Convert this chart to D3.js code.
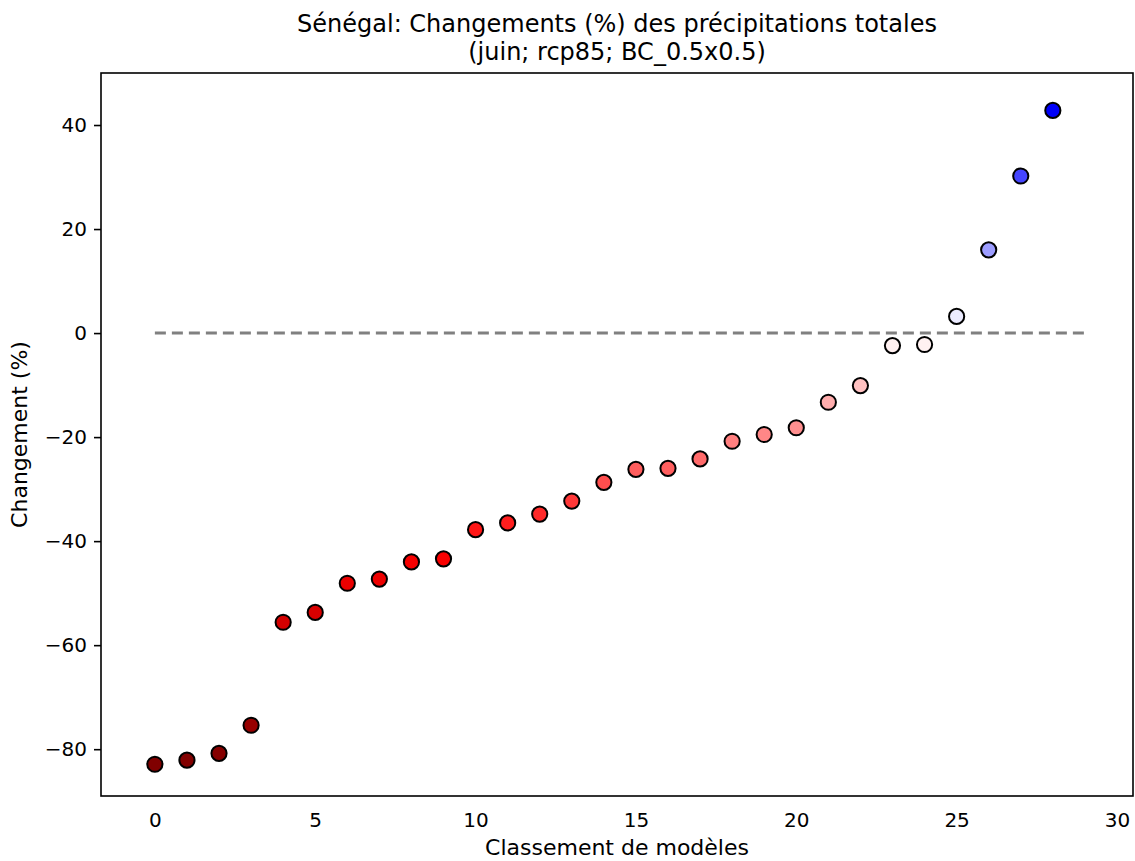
<!DOCTYPE html>
<html>
<head>
<meta charset="utf-8">
<script src="https://cdn.jsdelivr.net/npm/d3@7"></script>
<style>
  html, body { margin: 0; padding: 0; background: #fff; }
  text { font-family: "DejaVu Sans", sans-serif; fill: #000; }
</style>
</head>
<body>
<svg id="chart" width="1135" height="861"></svg>
<script>
// ---- data ----
const titleLines = ["Sénégal: Changements (%) des précipitations totales", "(juin; rcp85; BC_0.5x0.5)"];
const xLabel = "Classement de modèles";
const yLabel = "Changement (%)";
const ranks = [0,1,2,3,4,5,6,7,8,9,10,11,12,13,14,15,16,17,18,19,20,21,22,23,24,25,26,27,28];
const changes = [-82.9,-82.1,-80.8,-75.4,-55.6,-53.7,-48.1,-47.3,-44.0,-43.4,-37.8,-36.5,-34.8,-32.3,-28.7,-26.2,-26.0,-24.2,-20.8,-19.5,-18.2,-13.3,-10.1,-2.4,-2.2,3.2,16.0,30.2,42.8];
const xTicks = [0,5,10,15,20,25,30];
const yTicks = [-80,-60,-40,-20,0,20,40];
const zeroLine = [0, 29];

// ---- layout ----
const svg = d3.select("#chart");
const mLeft = 101, mRight = 1133, mTop = 73, mBottom = 796;

const x = d3.scaleLinear().domain([-1.68, 30.5]).range([mLeft, mRight]);
const y = d3.scaleLinear().domain([-89.0, 50.0]).range([mBottom, mTop]);

// seismic_r colormap, symmetric normalization
const vmax = d3.max(changes, v => Math.abs(v));
const color = d3.scaleLinear()
  .domain([-vmax, -vmax/2, 0, vmax/2, vmax])
  .range(["#800000", "#ff0000", "#ffffff", "#0000ff", "#00004d"]);

// zero dashed line
svg.append("line")
  .attr("x1", x(zeroLine[0])).attr("x2", x(zeroLine[1]))
  .attr("y1", y(0)).attr("y2", y(0))
  .attr("stroke", "#808080").attr("stroke-width", 3)
  .attr("stroke-dasharray", "11,6");

// points
svg.append("g").selectAll("circle")
  .data(ranks)
  .join("circle")
  .attr("cx", (d) => x(d))
  .attr("cy", (d, i) => y(changes[i]))
  .attr("r", 7.6)
  .attr("fill", (d, i) => color(changes[i]))
  .attr("stroke", "#000").attr("stroke-width", 2);

// axes
const yAxis = d3.axisLeft(y).tickValues(yTicks).tickSize(7).tickPadding(7)
  .tickFormat(d => d < 0 ? "\u2212" + Math.abs(d) : String(d));
const gy = svg.append("g").attr("transform", `translate(${mLeft},0)`).call(yAxis);
gy.select(".domain").remove();
gy.selectAll("line").attr("stroke", "#000").attr("stroke-width", 1.6);
gy.selectAll("text").attr("font-size", 20).attr("font-family", "DejaVu Sans");

const xAxis = d3.axisBottom(x).tickValues(xTicks).tickSize(0).tickPadding(17)
  .tickFormat(d3.format("d"));
const gx = svg.append("g").attr("transform", `translate(0,${mBottom})`).call(xAxis);
gx.select(".domain").remove();
gx.selectAll("line").remove();
gx.selectAll("text").attr("font-size", 20).attr("font-family", "DejaVu Sans");

// frame
svg.append("rect")
  .attr("x", mLeft).attr("y", mTop)
  .attr("width", mRight - mLeft).attr("height", mBottom - mTop)
  .attr("fill", "none").attr("stroke", "#000").attr("stroke-width", 1.6);

// title
svg.append("text").attr("x", (mLeft + mRight) / 2).attr("y", 32)
  .attr("text-anchor", "middle").attr("font-size", 24).text(titleLines[0]);
svg.append("text").attr("x", (mLeft + mRight) / 2).attr("y", 60)
  .attr("text-anchor", "middle").attr("font-size", 24).text(titleLines[1]);

// axis labels
svg.append("text").attr("x", (mLeft + mRight) / 2).attr("y", 855)
  .attr("text-anchor", "middle").attr("font-size", 22).text(xLabel);
svg.append("text")
  .attr("transform", `translate(27,${(mTop + mBottom) / 2}) rotate(-90)`)
  .attr("text-anchor", "middle").attr("font-size", 22).text(yLabel);
</script>
</body>
</html>
